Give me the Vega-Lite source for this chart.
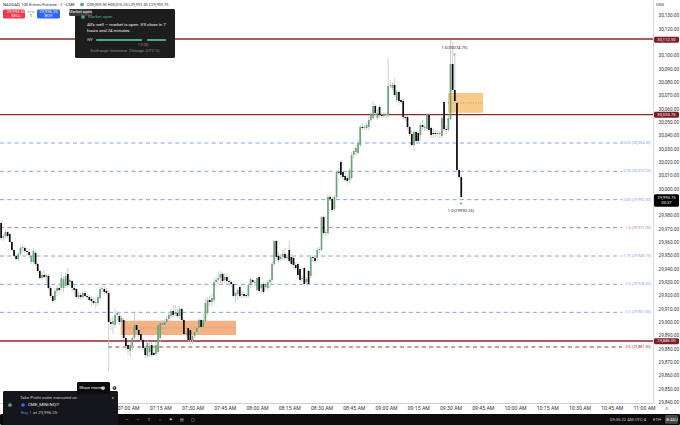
{"$schema":"https://vega.github.io/schema/vega-lite/v6.json","width":653,"height":403,"autosize":{"type":"none"},"padding":{"left":0,"top":0,"right":27,"bottom":22},"background":"#ffffff","config":{"view":{"stroke":null},"font":"Roboto"},
"datasets":{
"candles":[
{"t":"06:01","o":29974.5,"h":29976,"l":29961.75,"c":29963.25},{"t":"06:02","o":29963.25,"h":29966.25,"l":29961,"c":29964.75},{"t":"06:03","o":29964.75,"h":29969.25,"l":29963.25,"c":29967.75},{"t":"06:04","o":29967.75,"h":29968.5,"l":29963.25,"c":29964.75},{"t":"06:05","o":29966.25,"h":29967,"l":29959.5,"c":29960.25},{"t":"06:06","o":29960.25,"h":29961,"l":29953.5,"c":29954.25},{"t":"06:07","o":29954.25,"h":29955,"l":29948.25,"c":29949.75},{"t":"06:08","o":29949.75,"h":29950.5,"l":29946.75,"c":29947.5},{"t":"06:09","o":29947.5,"h":29952.75,"l":29946,"c":29951.25},{"t":"06:10","o":29951.25,"h":29957.25,"l":29949.75,"c":29955.75},
{"t":"06:11","o":29955.75,"h":29958.75,"l":29952.75,"c":29956.5},{"t":"06:12","o":29955.75,"h":29957.25,"l":29952,"c":29953.5},{"t":"06:13","o":29953.5,"h":29955.75,"l":29949.75,"c":29952.75},{"t":"06:14","o":29952.75,"h":29955,"l":29948.25,"c":29950.5},{"t":"06:15","o":29945.25,"h":29951.25,"l":29943.75,"c":29949.75},{"t":"06:16","o":29945.25,"h":29955.75,"l":29943.75,"c":29953.5},{"t":"06:17","o":29952,"h":29954.25,"l":29942.25,"c":29943.75},{"t":"06:18","o":29943.75,"h":29945.25,"l":29937,"c":29938.5},{"t":"06:19","o":29938.5,"h":29939.25,"l":29931.75,"c":29933.25},{"t":"06:20","o":29933.25,"h":29937.75,"l":29931.75,"c":29935.5},
{"t":"06:21","o":29935.5,"h":29939.25,"l":29932.5,"c":29934},{"t":"06:22","o":29934,"h":29937,"l":29929.5,"c":29935.5},{"t":"06:23","o":29934.75,"h":29936.25,"l":29924.25,"c":29925.75},{"t":"06:24","o":29925.75,"h":29927.25,"l":29918.25,"c":29919.75},{"t":"06:25","o":29919.75,"h":29920.5,"l":29914.5,"c":29916},{"t":"06:26","o":29916.75,"h":29925.75,"l":29915.25,"c":29923.5},{"t":"06:27","o":29923.5,"h":29928,"l":29919.75,"c":29925.75},{"t":"06:28","o":29925.75,"h":29929.5,"l":29922,"c":29924.25},{"t":"06:29","o":29925.75,"h":29937.75,"l":29924.25,"c":29933.25},{"t":"06:30","o":29925.75,"h":29934.75,"l":29922.75,"c":29932.5},
{"t":"06:31","o":29927.25,"h":29937.75,"l":29925.75,"c":29934.75},{"t":"06:32","o":29936.25,"h":29940.75,"l":29926.5,"c":29928},{"t":"06:33","o":29930.25,"h":29934,"l":29927.25,"c":29931.75},{"t":"06:34","o":29931,"h":29931.75,"l":29923.5,"c":29925.75},{"t":"06:35","o":29925.75,"h":29928,"l":29919.75,"c":29924.25},{"t":"06:36","o":29925,"h":29925.75,"l":29917.5,"c":29919},{"t":"06:37","o":29919,"h":29922.75,"l":29917.5,"c":29920.5},{"t":"06:38","o":29920.5,"h":29922,"l":29916.75,"c":29919},{"t":"06:39","o":29919,"h":29923.5,"l":29917.5,"c":29922},{"t":"06:40","o":29922,"h":29923.5,"l":29918.25,"c":29919.75},
{"t":"06:41","o":29919.75,"h":29921.25,"l":29916.75,"c":29919},{"t":"06:42","o":29919,"h":29920.5,"l":29915.25,"c":29916.75},{"t":"06:43","o":29917.5,"h":29919.75,"l":29912.25,"c":29916},{"t":"06:44","o":29916,"h":29918.25,"l":29912.25,"c":29914.5},{"t":"06:45","o":29914.5,"h":29917.5,"l":29910,"c":29915.25},{"t":"06:46","o":29914.5,"h":29920.5,"l":29912.25,"c":29919},{"t":"06:47","o":29918.25,"h":29926.5,"l":29916.75,"c":29925},{"t":"06:48","o":29925,"h":29928,"l":29922.75,"c":29925.75},{"t":"06:49","o":29925,"h":29927.25,"l":29921.25,"c":29922.75},{"t":"06:50","o":29923.5,"h":29925.75,"l":29920.5,"c":29922},
{"t":"06:51","o":29922,"h":29924.25,"l":29863.5,"c":29900.25},{"t":"06:52","o":29900.25,"h":29903.25,"l":29894.25,"c":29898.75},{"t":"06:53","o":29898.75,"h":29904.75,"l":29891.25,"c":29901},{"t":"06:54","o":29898,"h":29910.75,"l":29895.75,"c":29905.5},{"t":"06:55","o":29905.5,"h":29908.5,"l":29901.75,"c":29907},{"t":"06:56","o":29904.75,"h":29907.75,"l":29898,"c":29900.25},{"t":"06:57","o":29900.25,"h":29905.5,"l":29898,"c":29903.25},{"t":"06:58","o":29901.75,"h":29903.25,"l":29886.75,"c":29888.25},{"t":"06:59","o":29888.25,"h":29889.75,"l":29879.25,"c":29882.25},{"t":"07:00","o":29883,"h":29885.25,"l":29875.5,"c":29880},
{"t":"07:01","o":29878.5,"h":29885.25,"l":29874,"c":29883},{"t":"07:02","o":29882.25,"h":29889.75,"l":29879.25,"c":29888.25},{"t":"07:03","o":29888.25,"h":29907.75,"l":29886.75,"c":29898},{"t":"07:04","o":29898,"h":29900.25,"l":29892,"c":29894.25},{"t":"07:05","o":29894.25,"h":29895.75,"l":29889,"c":29890.5},{"t":"07:06","o":29891.25,"h":29892.75,"l":29885.25,"c":29886.75},{"t":"07:07","o":29886.75,"h":29888.25,"l":29879.25,"c":29880.75},{"t":"07:08","o":29880.75,"h":29883,"l":29873.25,"c":29875.5},{"t":"07:09","o":29874.75,"h":29886,"l":29873.25,"c":29884.5},{"t":"07:10","o":29877.75,"h":29884.5,"l":29874,"c":29882.25},
{"t":"07:11","o":29883,"h":29885.25,"l":29874,"c":29875.5},{"t":"07:12","o":29877,"h":29883,"l":29874.75,"c":29875.5},{"t":"07:13","o":29876.25,"h":29885.25,"l":29874.75,"c":29883},{"t":"07:14","o":29877.75,"h":29900.25,"l":29876.25,"c":29898},{"t":"07:15","o":29888.25,"h":29900.25,"l":29885.25,"c":29899.5},{"t":"07:16","o":29898,"h":29901.75,"l":29895.75,"c":29899.5},{"t":"07:17","o":29898,"h":29902.5,"l":29896.5,"c":29900.25},{"t":"07:18","o":29900.25,"h":29904.75,"l":29898,"c":29902.5},{"t":"07:19","o":29902.5,"h":29907.75,"l":29900.25,"c":29905.5},{"t":"07:20","o":29904.75,"h":29910,"l":29903.25,"c":29908.5},
{"t":"07:21","o":29908.5,"h":29913,"l":29904,"c":29905.5},{"t":"07:22","o":29906.25,"h":29913,"l":29904.75,"c":29907.75},{"t":"07:23","o":29907,"h":29910.75,"l":29903.25,"c":29904.75},{"t":"07:24","o":29904.75,"h":29912.25,"l":29902.5,"c":29910},{"t":"07:25","o":29910,"h":29911.5,"l":29900.25,"c":29901.75},{"t":"07:26","o":29901.75,"h":29903.25,"l":29889.75,"c":29891.25},{"t":"07:27","o":29891.25,"h":29894.25,"l":29889,"c":29892},{"t":"07:28","o":29895.75,"h":29897.25,"l":29885.25,"c":29886.75},{"t":"07:29","o":29894.25,"h":29895.75,"l":29883.75,"c":29886.75},{"t":"07:30","o":29886.75,"h":29890.5,"l":29883.75,"c":29889.75},
{"t":"07:31","o":29889.75,"h":29895,"l":29888.25,"c":29892.75},{"t":"07:32","o":29892.75,"h":29897.25,"l":29890.5,"c":29895.75},{"t":"07:33","o":29895.75,"h":29903.25,"l":29894.25,"c":29901.75},{"t":"07:34","o":29901.75,"h":29903.25,"l":29895,"c":29896.5},{"t":"07:35","o":29896.5,"h":29906.25,"l":29895,"c":29901.75},{"t":"07:36","o":29901,"h":29918.25,"l":29899.5,"c":29914.5},{"t":"07:37","o":29907,"h":29919,"l":29905.5,"c":29916.75},{"t":"07:38","o":29916.75,"h":29919.75,"l":29912.25,"c":29915.25},{"t":"07:39","o":29915.25,"h":29922,"l":29912.25,"c":29918.25},{"t":"07:40","o":29916.75,"h":29932.5,"l":29915.25,"c":29930.25},
{"t":"07:41","o":29930.25,"h":29934.75,"l":29928,"c":29931.75},{"t":"07:42","o":29931.75,"h":29937.75,"l":29928.75,"c":29933.25},{"t":"07:43","o":29933.25,"h":29938.5,"l":29929.5,"c":29936.25},{"t":"07:44","o":29936.25,"h":29937.75,"l":29928.75,"c":29931},{"t":"07:45","o":29931.75,"h":29937,"l":29929.5,"c":29934},{"t":"07:46","o":29934,"h":29937,"l":29928.75,"c":29931},{"t":"07:47","o":29931,"h":29934.75,"l":29927.25,"c":29930.25},{"t":"07:48","o":29930.25,"h":29931.75,"l":29926.5,"c":29928.75},{"t":"07:49","o":29928.75,"h":29930.25,"l":29918.25,"c":29919.75},{"t":"07:50","o":29919.75,"h":29922.75,"l":29914.5,"c":29922},
{"t":"07:51","o":29921.25,"h":29925.75,"l":29916.75,"c":29924.25},{"t":"07:52","o":29926.5,"h":29928,"l":29918.25,"c":29919.75},{"t":"07:53","o":29920.5,"h":29923.5,"l":29918.25,"c":29921.25},{"t":"07:54","o":29921.25,"h":29922.75,"l":29918.25,"c":29919.75},{"t":"07:55","o":29920.5,"h":29922,"l":29918.25,"c":29919.75},{"t":"07:56","o":29919.75,"h":29929.5,"l":29918.25,"c":29928},{"t":"07:57","o":29928,"h":29934,"l":29925.75,"c":29932.5},{"t":"07:58","o":29931.75,"h":29933.25,"l":29928,"c":29930.25},{"t":"07:59","o":29929.5,"h":29931.75,"l":29927.25,"c":29930.25},{"t":"08:00","o":29924.25,"h":29934,"l":29922.75,"c":29933.25},
{"t":"08:01","o":29934,"h":29935.5,"l":29922,"c":29923.5},{"t":"08:02","o":29925.75,"h":29929.5,"l":29921.25,"c":29928.75},{"t":"08:03","o":29928.75,"h":29930.25,"l":29921.25,"c":29922.75},{"t":"08:04","o":29926.5,"h":29930.25,"l":29924.25,"c":29928.75},{"t":"08:05","o":29925.75,"h":29931.75,"l":29923.5,"c":29930.25},{"t":"08:06","o":29930.25,"h":29933.25,"l":29925.75,"c":29931.75},{"t":"08:07","o":29931.75,"h":29945.25,"l":29930.25,"c":29943.75},{"t":"08:08","o":29943.75,"h":29961.75,"l":29942.25,"c":29961},{"t":"08:09","o":29961,"h":29961.75,"l":29947.5,"c":29949},{"t":"08:10","o":29949.75,"h":29952.75,"l":29944.5,"c":29946.75},
{"t":"08:11","o":29947.5,"h":29951.25,"l":29946,"c":29949},{"t":"08:12","o":29949,"h":29954.25,"l":29946.75,"c":29951.25},{"t":"08:13","o":29951.25,"h":29955.75,"l":29946,"c":29948.25},{"t":"08:14","o":29948.25,"h":29951.25,"l":29946.75,"c":29949},{"t":"08:15","o":29954.25,"h":29961,"l":29944.5,"c":29946},{"t":"08:16","o":29949,"h":29951.25,"l":29942.25,"c":29943.75},{"t":"08:17","o":29948.25,"h":29949.75,"l":29940.75,"c":29943},{"t":"08:18","o":29943,"h":29945.25,"l":29939.25,"c":29940.75},{"t":"08:19","o":29943.75,"h":29945.25,"l":29933.25,"c":29935.5},{"t":"08:20","o":29940,"h":29940.75,"l":29929.5,"c":29931.75},
{"t":"08:21","o":29932.5,"h":29935.5,"l":29930.25,"c":29933.25},{"t":"08:22","o":29940.75,"h":29941.5,"l":29927.25,"c":29928.75},{"t":"08:23","o":29930.25,"h":29934,"l":29928,"c":29932.5},{"t":"08:24","o":29938.5,"h":29939.25,"l":29928,"c":29928.75},{"t":"08:25","o":29934.75,"h":29950.5,"l":29933.25,"c":29949},{"t":"08:26","o":29949,"h":29950.5,"l":29945.25,"c":29948.25},{"t":"08:27","o":29948.25,"h":29949.75,"l":29944.5,"c":29946},{"t":"08:28","o":29948.25,"h":29955.75,"l":29946,"c":29954.25},{"t":"08:29","o":29954.25,"h":29956.5,"l":29952,"c":29955},{"t":"08:30","o":29954.25,"h":29979.75,"l":29952.75,"c":29979},
{"t":"08:31","o":29979,"h":29980.5,"l":29964.75,"c":29967},{"t":"08:32","o":29967,"h":29970,"l":29964.75,"c":29967.75},{"t":"08:33","o":29967,"h":29995.5,"l":29965.5,"c":29994},{"t":"08:34","o":29994,"h":29996.25,"l":29991,"c":29992.5},{"t":"08:35","o":29992.5,"h":29994,"l":29982.75,"c":29984.25},{"t":"08:36","o":29985,"h":29995.5,"l":29983.5,"c":29994},{"t":"08:37","o":29994,"h":30014.25,"l":29992.5,"c":30012.75},{"t":"08:38","o":30012.75,"h":30015.75,"l":30010.5,"c":30012},{"t":"08:39","o":30020.25,"h":30021.75,"l":30008.25,"c":30010.5},{"t":"08:40","o":30012.75,"h":30014.25,"l":30006.75,"c":30009},
{"t":"08:41","o":30009.75,"h":30012.75,"l":30005.25,"c":30006.75},{"t":"08:42","o":30008.25,"h":30010.5,"l":30003,"c":30006},{"t":"08:43","o":30006.75,"h":30015.75,"l":30004.5,"c":30014.25},{"t":"08:44","o":30008.25,"h":30027.75,"l":30006.75,"c":30025.5},{"t":"08:45","o":30025.5,"h":30030.75,"l":30023.25,"c":30028.5},{"t":"08:46","o":30027.75,"h":30033,"l":30025.5,"c":30030.75},{"t":"08:47","o":30027,"h":30036.75,"l":30025.5,"c":30034.5},{"t":"08:48","o":30033,"h":30048,"l":30031.5,"c":30046.5},{"t":"08:49","o":30046.5,"h":30049.5,"l":30044.25,"c":30045.75},{"t":"08:50","o":30045.75,"h":30048,"l":30044.25,"c":30046.5},
{"t":"08:51","o":30045.75,"h":30050.25,"l":30044.25,"c":30048},{"t":"08:52","o":30046.5,"h":30054.75,"l":30044.25,"c":30051.75},{"t":"08:53","o":30051.75,"h":30057.75,"l":30050.25,"c":30055.5},{"t":"08:54","o":30053.25,"h":30066,"l":30051.75,"c":30062.25},{"t":"08:55","o":30062.25,"h":30063.75,"l":30054.75,"c":30057},{"t":"08:56","o":30053.25,"h":30060,"l":30051.75,"c":30057},{"t":"08:57","o":30061.5,"h":30063,"l":30053.25,"c":30055.5},{"t":"08:58","o":30055.5,"h":30057.75,"l":30053.25,"c":30054.75},{"t":"08:59","o":30054.75,"h":30057.75,"l":30053.25,"c":30056.25},{"t":"09:00","o":30055.5,"h":30057.75,"l":30053.25,"c":30056.25},
{"t":"09:01","o":30055.5,"h":30098.25,"l":30054,"c":30077.25},{"t":"09:02","o":30077.25,"h":30081.75,"l":30075.75,"c":30078},{"t":"09:03","o":30075.75,"h":30080.25,"l":30074.25,"c":30078},{"t":"09:04","o":30078,"h":30083.25,"l":30069,"c":30070.5},{"t":"09:05","o":30066.75,"h":30074.25,"l":30065.25,"c":30072.75},{"t":"09:06","o":30072.75,"h":30074.25,"l":30063,"c":30066},{"t":"09:07","o":30066.75,"h":30068.25,"l":30063.75,"c":30065.25},{"t":"09:08","o":30066,"h":30067.5,"l":30051.75,"c":30054},{"t":"09:09","o":30054,"h":30055.5,"l":30051,"c":30053.25},{"t":"09:10","o":30054,"h":30055.5,"l":30044.25,"c":30046.5},
{"t":"09:11","o":30046.5,"h":30047.25,"l":30039.75,"c":30041.25},{"t":"09:12","o":30041.25,"h":30044.25,"l":30031.5,"c":30033},{"t":"09:13","o":30033,"h":30044.25,"l":30028.5,"c":30042.75},{"t":"09:14","o":30042.75,"h":30044.25,"l":30034.5,"c":30036},{"t":"09:15","o":30042,"h":30043.5,"l":30034.5,"c":30036},{"t":"09:16","o":30040.5,"h":30050.25,"l":30036.75,"c":30048},{"t":"09:17","o":30048,"h":30051.75,"l":30044.25,"c":30046.5},{"t":"09:18","o":30045.75,"h":30048.75,"l":30043.5,"c":30046.5},{"t":"09:19","o":30045,"h":30057,"l":30043.5,"c":30055.5},{"t":"09:20","o":30055.5,"h":30057,"l":30042.75,"c":30044.25},
{"t":"09:21","o":30045.75,"h":30047.25,"l":30038.25,"c":30040.5},{"t":"09:22","o":30042,"h":30045,"l":30038.25,"c":30041.25},{"t":"09:23","o":30042,"h":30044.25,"l":30039,"c":30041.25},{"t":"09:24","o":30041.25,"h":30044.25,"l":30039,"c":30042},{"t":"09:25","o":30041.25,"h":30043.5,"l":30038.25,"c":30042},{"t":"09:26","o":30039.75,"h":30055.5,"l":30038.25,"c":30053.25},{"t":"09:27","o":30065.25,"h":30066.75,"l":30043.5,"c":30045},{"t":"09:28","o":30045,"h":30048,"l":30041.25,"c":30044.25},{"t":"09:29","o":30044.25,"h":30055.5,"l":30042.75,"c":30053.25},{"t":"09:30","o":30052.5,"h":30111.75,"l":30051.75,"c":30093.75},
{"t":"09:31","o":30093.75,"h":30110.25,"l":30072.75,"c":30074.25},{"t":"09:32","o":30074.25,"h":30100.5,"l":30064.5,"c":30066},{"t":"09:33","o":30064.5,"h":30066.75,"l":30012.75,"c":30014.25},{"t":"09:34","o":30014.25,"h":30015.75,"l":30006.75,"c":30009},{"t":"09:35","o":30009,"h":30010.5,"l":29994,"c":29994}
],
"levels":[
{"t":"06:00:28","t2":"10:49:46","p":30034.5,"tone":"fibBlue"},{"t":"06:00:28","t2":"10:49:46","p":30013.25,"tone":"fibBlue"},{"t":"06:00:28","t2":"10:49:46","p":29992,"tone":"fibBlue"},{"t":"06:00:28","t2":"10:49:46","p":29971,"tone":"fibMaroon"},{"t":"06:00:28","t2":"10:49:46","p":29949.75,"tone":"fibBlue"},{"t":"06:00:28","t2":"10:49:46","p":29928.5,"tone":"fibBlue"},{"t":"06:00:28","t2":"10:49:46","p":29907.5,"tone":"fibBlue"},{"t":"06:50:42","t2":"10:49:46","p":29881.5,"tone":"fibRed"}],
"levelLabels":[
{"t":"11:03:15","p":30034.5,"label":"0.625 (30,034.50)","tone":"fibBlue"},{"t":"11:03:15","p":30013.25,"label":"0.75 (30,013.25)","tone":"fibBlue"},{"t":"11:03:15","p":29992,"label":"1.000 (29,992.00)","tone":"fibBlue"},{"t":"11:03:15","p":29971,"label":"1.5 (29,971.00)","tone":"fibMaroon"},{"t":"11:03:15","p":29949.75,"label":"1.75 (29,949.75)","tone":"fibBlue"},{"t":"11:03:15","p":29928.5,"label":"2.0 (29,928.50)","tone":"fibBlue"},{"t":"11:03:15","p":29907.5,"label":"2.5 (29,907.50)","tone":"fibBlue"},{"t":"11:03:15","p":29881.5,"label":"3.5 (29,881.50)","tone":"fibRed"}],
"sr":[{"t":"06:00:28","t2":"11:04:11","p":30112.5},{"t":"06:00:28","t2":"11:04:11","p":30055.75},{"t":"06:00:28","t2":"11:04:11","p":29886}],
"boxes":[{"t":"06:56:36","t2":"07:50:14","p":29901.2,"p2":29890.5,"tone":"boxA"},{"t":"09:28:50","t2":"09:45:07","p":30072,"p2":30057.2,"tone":"boxB"}],
"boxMid":[{"t":"06:56:36","t2":"07:50:14","p":29895.75},{"t":"09:28:50","t2":"09:45:07","p":30064.6}],
"panels":[
{"t":"06:01:52","t2":"06:12:06","p":30134.625,"p2":30127.875,"tone":"sell"},{"t":"06:17:41","t2":"06:28:22","p":30134.625,"p2":30127.875,"tone":"buy"},
{"t":"06:35:21","t2":"07:21:52","p":30135,"p2":30098.25,"tone":"panel"},{"t":"06:32:34","t2":"06:43:15","p":30135,"p2":30129.75,"tone":"tip"},
{"t":"06:45:07","t2":"07:06:31","p":30112.5,"p2":30111,"tone":"barGreen"},{"t":"07:08:50","t2":"07:17:41","p":30112.5,"p2":30111,"tone":"barGreen"},
{"t":"06:00:28","t2":"11:16:45","p":29831.25,"p2":29823,"tone":"bottom"},{"t":"06:01:52","t2":"06:55:21","p":29848.5,"p2":29823,"tone":"notice"},{"t":"06:36:17","t2":"06:51:38","p":29855.25,"p2":29846.25,"tone":"bottom"},
{"t":"11:09:46","t2":"11:15:49","p":29830.5,"p2":29824,"tone":"tagGray"},
{"t":"11:04:39","t2":"11:16:17","p":30114.25,"p2":30109.75,"tone":"tagRed"},{"t":"11:04:39","t2":"11:16:17","p":30058,"p2":30053.5,"tone":"tagRed"},{"t":"11:04:39","t2":"11:16:17","p":29888,"p2":29883.5,"tone":"tagRed"},{"t":"11:04:39","t2":"11:16:17","p":29996,"p2":29986.75,"tone":"tagBlack"}],
"dots":[{"t":"06:38:36","p":30138.375,"tone":"barGreen"},{"t":"06:39:04","p":30129,"tone":"barGreen"},{"t":"06:05:07","p":29838,"tone":"barGreen"},{"t":"06:11:10","p":29838,"tone":"buy"},{"t":"06:48:22","p":29850.75,"tone":"white"},{"t":"06:53:43","p":29850.75,"tone":"bottom"}],
"textTitle":[{"t":"06:01:52","p":30138.375,"label":"NASDAQ 100 E-mini Futures · 1 · CME","tone":"dark"}],
"textSmall":[{"t":"06:40:56","p":30138.375,"label":"O30,009.50 H30,015.25 L29,991.50 C29,993.75","tone":"dark"}],
"textLeft":[
{"t":"06:41:24","p":30129,"label":"Market open","tone":"barGreen"},{"t":"06:40:56","p":30123,"label":"All's well — market is open. It'll close in 7","tone":"white"},{"t":"06:40:56","p":30118.5,"label":"hours and 24 minutes.","tone":"white"},
{"t":"06:09:46","p":29843.25,"label":"Take Profit order executed on","tone":"pale"},{"t":"06:13:29","p":29838,"label":"CME_MINI:NQ1!","tone":"white"},{"t":"06:10:14","p":29832,"label":"Buy 1","tone":"blue"},{"t":"06:15:49","p":29832,"label":"at 29,996.25","tone":"pale"},
{"t":"06:37:20","p":29850.75,"label":"Show more","tone":"white"}],
"textCenter":[
{"t":"06:07:55","p":30132.9,"label":"29,993.50","tone":"white"},{"t":"06:07:55","p":30129.6,"label":"SELL","tone":"white"},{"t":"06:23:01","p":30132.9,"label":"29,996.25","tone":"white"},{"t":"06:23:01","p":30129.6,"label":"BUY","tone":"white"},{"t":"06:14:53","p":30133,"label":"n/a","tone":"gray"},{"t":"06:14:53","p":30130,"label":"1","tone":"dark"},
{"t":"06:37:54","p":30132.4,"label":"Market open","tone":"white"},{"t":"06:42:20","p":30111.75,"label":"NY","tone":"pale"},{"t":"07:06:59","p":30108,"label":"15:00","tone":"gray"},{"t":"06:58:36","p":30103.5,"label":"Exchange timezone: Chicago (UTC-5)","tone":"gray"},
{"t":"06:53:01","p":29843.25,"label":"×","tone":"pale"},{"t":"06:53:43","p":29850.75,"label":"×","tone":"white"},{"t":"06:48:22","p":29850.75,"label":"1","tone":"bottom"},
{"t":"06:59:32","p":29827.1,"label":"—","tone":"pale"},{"t":"07:04:39","p":29827.1,"label":"—","tone":"pale"},{"t":"07:09:46","p":29827.1,"label":"T","tone":"pale"},{"t":"07:14:53","p":29827.1,"label":"○","tone":"pale"},{"t":"07:20:00","p":29827.1,"label":"⚑","tone":"pale"},{"t":"07:25:07","p":29827.1,"label":"▤","tone":"pale"},{"t":"07:30:14","p":29827.1,"label":"▢","tone":"pale"},
{"t":"10:52:34","p":29827.1,"label":"09:35:22 AM UTC-4","tone":"pale"},{"t":"11:06:03","p":29827.1,"label":"ETH","tone":"pale"},{"t":"11:13:01","p":29827.1,"label":"B-ADJ","tone":"white"},
{"t":"11:10:28","p":30112,"label":"30,112.50","tone":"white"},{"t":"11:10:28","p":30055.75,"label":"30,055.75","tone":"white"},{"t":"11:10:28","p":29885.75,"label":"29,886.00","tone":"white"},{"t":"11:10:28","p":29993.6,"label":"29,993.75","tone":"white"},{"t":"11:10:28","p":29989.5,"label":"00:37","tone":"white"},
{"t":"11:07:27","p":30138.375,"label":"USD","tone":"dark"},{"t":"11:10:42","p":29835,"label":"⚙","tone":"gray"},
{"t":"09:31:52","p":30105.75,"label":"1.0(30074.75)","tone":"dark"},{"t":"09:34:53","p":29983.5,"label":"1.0(29990.25)","tone":"dark"}],
"arrowDown":[{"t":"09:31:52","p":30100.5}],"arrowUp":[{"t":"09:34:53","p":29989.5}]
},
"encoding":{
"x":{"field":"t","type":"temporal","scale":{"type":"utc","nice":false,"padding":0,"domain":[{"year":1900,"month":1,"date":1,"hours":6,"minutes":0,"seconds":28,"utc":true},{"year":1900,"month":1,"date":1,"hours":11,"minutes":4,"seconds":11,"utc":true}]},"title":null,"axis":{"values":[{"year":1900,"month":1,"date":1,"hours":7,"minutes":0,"utc":true},{"year":1900,"month":1,"date":1,"hours":7,"minutes":15,"utc":true},{"year":1900,"month":1,"date":1,"hours":7,"minutes":30,"utc":true},{"year":1900,"month":1,"date":1,"hours":7,"minutes":45,"utc":true},{"year":1900,"month":1,"date":1,"hours":8,"minutes":0,"utc":true},{"year":1900,"month":1,"date":1,"hours":8,"minutes":15,"utc":true},{"year":1900,"month":1,"date":1,"hours":8,"minutes":30,"utc":true},{"year":1900,"month":1,"date":1,"hours":8,"minutes":45,"utc":true},{"year":1900,"month":1,"date":1,"hours":9,"minutes":0,"utc":true},{"year":1900,"month":1,"date":1,"hours":9,"minutes":15,"utc":true},{"year":1900,"month":1,"date":1,"hours":9,"minutes":30,"utc":true},{"year":1900,"month":1,"date":1,"hours":9,"minutes":45,"utc":true},{"year":1900,"month":1,"date":1,"hours":10,"minutes":0,"utc":true},{"year":1900,"month":1,"date":1,"hours":10,"minutes":15,"utc":true},{"year":1900,"month":1,"date":1,"hours":10,"minutes":30,"utc":true},{"year":1900,"month":1,"date":1,"hours":10,"minutes":45,"utc":true},{"year":1900,"month":1,"date":1,"hours":11,"minutes":0,"utc":true}],"format":"%I:%M %p","labelFontSize":5.2,"labelColor":"#333333","ticks":false,"grid":false,"domainColor":"#cfcfcf","labelPadding":2,"labelOverlap":false,"labelFlush":false}},
"y":{"field":"p","type":"quantitative","scale":{"domain":[29839.5,30141.75],"nice":false,"zero":false},"title":null,"axis":{"orient":"right","values":[29840,29850,29860,29870,29880,29890,29900,29910,29920,29930,29940,29950,29960,29970,29980,30000,30010,30020,30030,30040,30050,30060,30070,30080,30090,30100,30120,30130],"format":",.2f","labelFontSize":4.7,"labelColor":"#333333","ticks":false,"grid":false,"domainColor":"#d8d8d8","labelPadding":5}}
},
"layer":[
{"data":{"name":"levels","format":{"parse":{"t":"utc:'%H:%M:%S'","t2":"utc:'%H:%M:%S'"}}},"mark":{"type":"rule","strokeWidth":1,"strokeDash":[4,3.3]},"encoding":{"x2":{"field":"t2"},"color":{"field":"tone","type":"nominal","legend":null,"scale":{"domain":["fibBlue","fibMaroon","fibRed"],"range":["#7fa2ea","#b08288","#a8343c"]}}}},
{"data":{"name":"levelLabels","format":{"parse":{"t":"utc:'%H:%M:%S'"}}},"mark":{"type":"text","align":"right","baseline":"middle","fontSize":3.8},"encoding":{"text":{"field":"label"},"color":{"field":"tone","type":"nominal","legend":null,"scale":{"domain":["fibBlue","fibMaroon","fibRed"],"range":["#7fa2ea","#b08288","#a8343c"]}}}},
{"data":{"name":"boxes","format":{"parse":{"t":"utc:'%H:%M:%S'","t2":"utc:'%H:%M:%S'"}}},"mark":{"type":"rect"},"encoding":{"x2":{"field":"t2"},"y2":{"field":"p2"},"color":{"field":"tone","type":"nominal","legend":null,"scale":{"domain":["boxA","boxB"],"range":["#f4b183","#f9c98a"]}}}},
{"data":{"name":"boxMid","format":{"parse":{"t":"utc:'%H:%M:%S'","t2":"utc:'%H:%M:%S'"}}},"mark":{"type":"rule","strokeWidth":0.7,"strokeDash":[1,1.5],"color":"#a9896a"},"encoding":{"x2":{"field":"t2"}}},
{"data":{"name":"sr","format":{"parse":{"t":"utc:'%H:%M:%S'","t2":"utc:'%H:%M:%S'"}}},"mark":{"type":"rule","strokeWidth":1.3,"color":"#8a2a30"},"encoding":{"x2":{"field":"t2"}}},
{"data":{"name":"candles","format":{"parse":{"t":"utc:'%H:%M'"}}},"layer":[
{"mark":{"type":"rule","strokeWidth":0.8,"color":"#c4c4c4"},"encoding":{"y":{"field":"l","type":"quantitative","scale":{"domain":[29839.5,30141.75],"nice":false,"zero":false},"title":null},"y2":{"field":"h"}}},
{"mark":{"type":"bar","size":1.7},"encoding":{"y":{"field":"o","type":"quantitative","scale":{"domain":[29839.5,30141.75],"nice":false,"zero":false},"title":null},"y2":{"field":"c"},"color":{"condition":{"test":"datum.c>=datum.o","value":"#6aa578"},"value":"#0a0a0a"}}}
]},
{"data":{"name":"arrowDown","format":{"parse":{"t":"utc:'%H:%M:%S'"}}},"mark":{"type":"point","shape":"triangle-down","filled":true,"size":10,"color":"#ef6a82"}},
{"data":{"name":"arrowUp","format":{"parse":{"t":"utc:'%H:%M:%S'"}}},"mark":{"type":"point","shape":"triangle-up","filled":true,"size":10,"color":"#4a7fd6"}},
{"data":{"name":"panels","format":{"parse":{"t":"utc:'%H:%M:%S'","t2":"utc:'%H:%M:%S'"}}},"mark":{"type":"rect","cornerRadius":1.5},"encoding":{"x2":{"field":"t2"},"y2":{"field":"p2"},"color":{"field":"tone","type":"nominal","legend":null,"scale":{"domain":["sell","buy","panel","tip","barGreen","bottom","notice","tagGray","tagRed","tagBlack","white","dark","pale","gray","blue"],"range":["#ee3a4e","#2f66f2","#1d1d1d","#3b3b3b","#4fa78f","#0c0c0c","#14161b","#4a4a4a","#7d1c24","#000000","#f2f2f2","#2a2a2a","#c8c8c8","#8a8a8a","#4a86d8"]}}}},
{"data":{"name":"dots","format":{"parse":{"t":"utc:'%H:%M:%S'"}}},"mark":{"type":"point","filled":true,"size":14,"opacity":1},"encoding":{"color":{"field":"tone","type":"nominal","legend":null,"scale":{"domain":["sell","buy","panel","tip","barGreen","bottom","notice","tagGray","tagRed","tagBlack","white","dark","pale","gray","blue"],"range":["#ee3a4e","#2f66f2","#1d1d1d","#3b3b3b","#4fa78f","#0c0c0c","#14161b","#4a4a4a","#7d1c24","#000000","#f2f2f2","#2a2a2a","#c8c8c8","#8a8a8a","#4a86d8"]}}}},
{"data":{"name":"textTitle","format":{"parse":{"t":"utc:'%H:%M:%S'"}}},"mark":{"type":"text","align":"left","baseline":"middle","fontSize":4.3,"color":"#2a2a2a"},"encoding":{"text":{"field":"label"}}},
{"data":{"name":"textSmall","format":{"parse":{"t":"utc:'%H:%M:%S'"}}},"mark":{"type":"text","align":"left","baseline":"middle","fontSize":3.9,"color":"#2a2a2a"},"encoding":{"text":{"field":"label"}}},
{"data":{"name":"textLeft","format":{"parse":{"t":"utc:'%H:%M:%S'"}}},"mark":{"type":"text","align":"left","baseline":"middle","fontSize":4.4},"encoding":{"text":{"field":"label"},"color":{"field":"tone","type":"nominal","legend":null,"scale":{"domain":["sell","buy","panel","tip","barGreen","bottom","notice","tagGray","tagRed","tagBlack","white","dark","pale","gray","blue"],"range":["#ee3a4e","#2f66f2","#1d1d1d","#3b3b3b","#4fa78f","#0c0c0c","#14161b","#4a4a4a","#7d1c24","#000000","#f2f2f2","#2a2a2a","#c8c8c8","#8a8a8a","#4a86d8"]}}}},
{"data":{"name":"textCenter","format":{"parse":{"t":"utc:'%H:%M:%S'"}}},"mark":{"type":"text","align":"center","baseline":"middle","fontSize":4.2},"encoding":{"text":{"field":"label"},"color":{"field":"tone","type":"nominal","legend":null,"scale":{"domain":["sell","buy","panel","tip","barGreen","bottom","notice","tagGray","tagRed","tagBlack","white","dark","pale","gray","blue"],"range":["#ee3a4e","#2f66f2","#1d1d1d","#3b3b3b","#4fa78f","#0c0c0c","#14161b","#4a4a4a","#7d1c24","#000000","#f2f2f2","#2a2a2a","#c8c8c8","#8a8a8a","#4a86d8"]}}}}
],
"resolve":{"scale":{"color":"independent"}}
}
